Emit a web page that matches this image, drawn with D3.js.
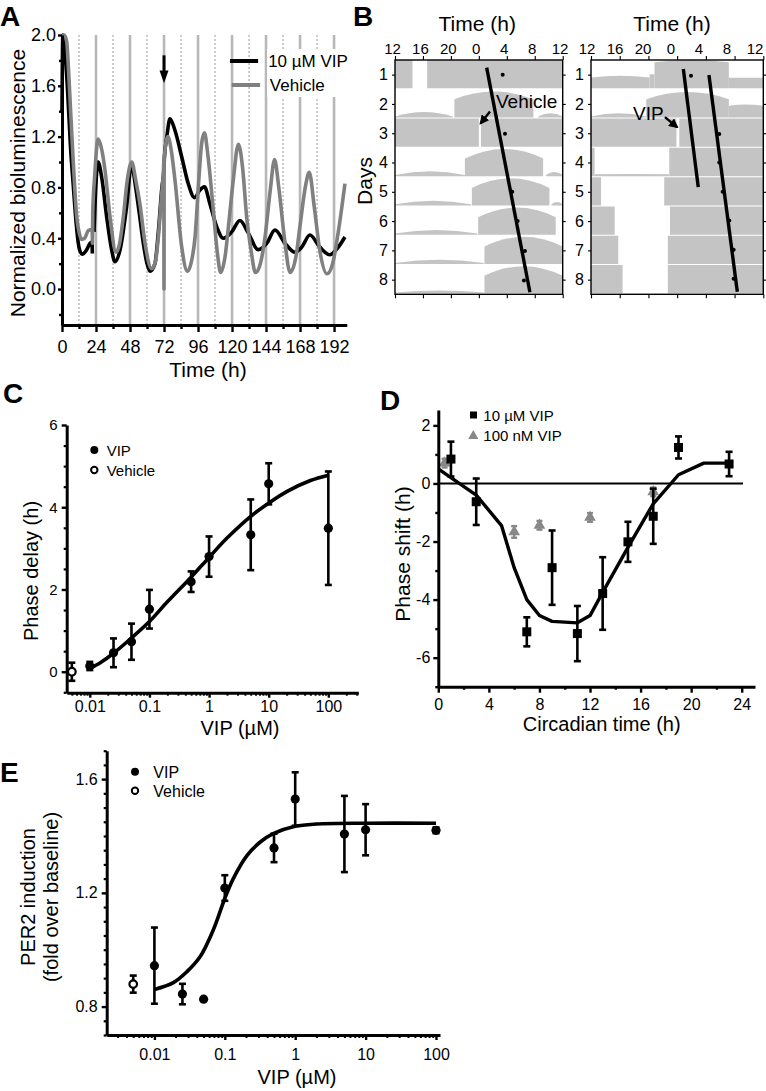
<!DOCTYPE html>
<html><head><meta charset="utf-8">
<script src="https://cdn.jsdelivr.net/npm/d3@7"></script>
<style>body{margin:0;background:#fff} svg{display:block}</style>
</head><body><svg id="fig" width="766" height="1091"></svg>
<script>
// ---------------- DATA ----------------
// Panel A: bioluminescence traces [time h, normalized value]; null = break
const aVipSeries = [[0,1.40],[0.6,2.0],[2,1.9],[4,1.55],[6,1.12],[8,0.81],[10,0.52],[11.5,0.36],[13,0.29],[14.4,0.275],[17.4,0.31],[19.8,0.36],[21.2,0.37],[21.4,0.28],null,
 [22.6,0.45],[23.5,0.72],[25.5,1.0],[28,0.88],[31.5,0.57],[35,0.31],[37.4,0.215],[41,0.31],[45.6,0.65],[49,0.98],[52,0.8],[54.5,0.6],[57.4,0.36],[60,0.2],[62.1,0.14],[65.6,0.2],[68,0.45],[70.5,0.8],[72,0.95],[72.3,1.04],[74,1.2],[76.2,1.34],[79.7,1.25],[84.5,1.04],[89.1,0.83],[93.5,0.72],[97.4,0.78],[100.5,0.805],[104.4,0.67],[109.2,0.49],[113.9,0.40],[119.8,0.45],[125.6,0.54],[131.5,0.44],[138.5,0.31],[144.5,0.36],[150.3,0.465],[157.4,0.36],[164.4,0.29],[169.2,0.33],[175,0.425],[182,0.33],[189,0.27],[195,0.33],[199.7,0.41]];
const aVehicleSeries = [[0,1.99],[1.5,2.0],[3.3,1.95],[4.5,1.75],[5.6,1.51],[8,0.99],[10.4,0.57],[12,0.45],[13.9,0.39],[16,0.4],[18.6,0.46],[21.3,0.47],[21.5,0.36],[21.7,0.6],[23,0.88],[25.5,1.18],[28,1.1],[30.3,0.94],[33.9,0.57],[38.1,0.29],[40.5,0.35],[43.3,0.57],[46,0.85],[49.2,1.0],[52,0.86],[55,0.67],[58.6,0.36],[63.3,0.16],[66,0.22],[68,0.41],[70,0.7],[71.5,0.91],[71.9,1.0],[72,0.0],[72.1,1.02],[74.7,1.2],[77,1.1],[79.7,0.86],[84.5,0.33],[88.5,0.14],[91,0.2],[93.9,0.41],[96.5,0.85],[98.6,1.15],[100.5,1.23],[103,1.05],[106.8,0.62],[109.5,0.3],[112,0.13],[115,0.25],[118,0.55],[120.9,0.86],[124.5,1.14],[127.5,0.95],[130.3,0.57],[133.5,0.3],[136.5,0.13],[140,0.2],[143.3,0.41],[147,0.78],[150,1.02],[153,0.8],[157,0.4],[161,0.13],[165,0.25],[168,0.5],[172,0.82],[174.5,0.92],[178,0.65],[182,0.3],[187,0.12],[191,0.2],[195,0.45],[199.7,0.83]];
const aXTicks = [0,24,48,72,96,120,144,168,192];
const aXMinor = [12,36,60,84,108,132,156,180];
const aYTicks = [0,0.4,0.8,1.2,1.6,2.0];
const aYMinor = [-0.2,0.2,0.6,1.0,1.4,1.8];
const aSolidLines = [24,48,72,96,120,144,168,192];
const aDottedLines = [12,36,60,84,108,132,156,180];
const aLegend = ["10 \u00B5M VIP","Vehicle"];

// Panel B: actograms; bouts = [day, startHour, endHour, edgeHeight, midHeight]
const bTickHours = [0,4,8,12,16,20,24];
const bTickLabels = ["12","16","20","0","4","8","12"];
const bDays = [1,2,3,4,5,6,7,8];
const vehicleBouts = [
 [1,0,2.5,1,1],[1,4.6,24,1,1],
 [2,0,8.3,0.04,0.2],[2,8.5,19.8,0.65,0.92],[2,20.5,24,0.04,0.15],
 [3,0,12,1,1],[3,12.3,24,1,1],
 [4,0,10,0.04,0.17],[4,10,21.2,0.62,0.96],[4,21.6,24,0.04,0.15],
 [5,0,10.9,0.04,0.17],[5,11,22.1,0.62,0.96],[5,22.4,24,0.04,0.12],
 [6,0,11.8,0.04,0.17],[6,11.9,23,0.62,0.96],
 [7,0,12.7,0.04,0.15],[7,12.8,24,0.62,0.96],
 [8,0,12.7,0.03,0.1],[8,12.8,24,0.62,0.96]];
const vipBouts = [
 [1,0,8.15,0.38,0.44],[1,8.15,8.85,0.5,0.5],[1,8.85,19.2,0.92,1.0],[1,19.2,24,0.37,0.37],
 [2,0,7.7,0.04,0.15],[2,7.7,19.2,0.65,0.9],[2,19.2,24,0.42,0.46],
 [3,0,11.9,1,1],[3,12.3,24,1,1],
 [4,0,0.5,1,1],[4,0.5,10.9,0.07,0.08],[4,10.9,24,1,1],
 [5,0,1.4,1,1],[5,10.2,24,1,1],
 [6,0,3.3,1,1],[6,11.0,24,1,1],
 [7,0,3.8,1,1],[7,10.7,24,1,1],
 [8,0,4.4,1,1],[8,10.7,24,1,1]];
const vehicleLines = [[[13.12,0.76],[19.31,8.43]]];
const vehicleDots = [[15.41,1],[15.74,3.02],[16.78,5],[17.55,6],[18.6,7.02],[18.45,8.03]];
const vipLines = [[[12.86,0.81],[14.94,4.84]],[[16.43,1.01],[20.38,8.41]]];
const vipDots = [[13.93,1.04],[17.87,3.03],[17.87,4.0],[18.34,5.0],[19.26,5.98],[19.87,6.98],[19.87,7.97]];

// Panel C: phase delay vs VIP dose
const cDose = [0.01,0.025,0.05,0.1,0.5,1,5,10,100];
const cDelay = [0.14,0.46,0.73,1.52,2.19,2.80,3.33,4.57,3.49];
const cErr = [0.1,0.35,0.44,0.47,0.25,0.49,0.86,0.5,1.38];
const cVehDose = [0.005], cVehDelay = [0.0], cVehErr = [0.22];
const cFitDose = [0.01,0.015,0.025,0.05,0.1,0.2,0.5,1,2,5,10,20,50,100];
const cFitDelay = [0.08,0.22,0.45,0.82,1.22,1.7,2.3,2.78,3.25,3.78,4.1,4.38,4.65,4.78];
const cXTicks = [0.01,0.1,1,10,100];
const cYTicks = [0,2,4,6];

// Panel D: phase response curve
const dCT = [1,3,7,9,11,13,15,17,19,23];
const dShift = [0.84,-0.63,-5.11,-2.9,-5.17,-3.79,-2.01,-1.13,1.24,0.67];
const dErr = [0.6,0.8,0.5,1.28,0.95,1.25,0.69,0.95,0.38,0.42];
const d100CT = [0.5,6,8,12,17];
const d100Shift = [0.7,-1.67,-1.44,-1.17,-0.29];
const d100Err = [0.15,0.2,0.15,0.15,0.15];
const dFitCT = [0,1,3,5,6,7,8,9,11,12,13,15,17,19,21,23];
const dFitShift = [0.5,0.2,-0.4,-1.45,-2.9,-4.0,-4.55,-4.75,-4.8,-4.55,-3.75,-2.2,-0.7,0.3,0.7,0.7];
const dXTicks = [0,4,8,12,16,20,24], dXMinor = [2,6,10,14,18,22];
const dYTicks = [-6,-4,-2,0,2], dYMinor = [-7,-5,-3,-1,1];

// Panel E: PER2 induction
const eDose = [0.01,0.025,0.05,0.1,0.5,1,5,10,100];
const eInd = [0.944,0.844,0.826,1.217,1.358,1.53,1.407,1.422,1.42];
const eErr = [0.134,0.036,0,0.045,0.05,0.094,0.134,0.09,0.01];
const eVehDose = [0.005], eVehInd = [0.879], eVehErr = [0.03];
const eFitDose = [0.01,0.0186,0.0288,0.0445,0.0687,0.1,0.132,0.205,0.316,0.488,1,2,10,100];
const eFitInd = [0.86,0.884,0.922,0.975,1.07,1.18,1.25,1.33,1.378,1.408,1.434,1.442,1.445,1.445];
const eXTicks = [0.01,0.1,1,10,100];
const eYTicks = [0.8,1.2,1.6];

// ---------------- DRAWING ----------------
const FONT = '"Liberation Sans", Arial, Helvetica, sans-serif';
const svg = d3.select("#fig");
const defs = svg.append("defs");
defs.append("marker").attr("id","ah").attr("viewBox","0 0 10 10").attr("refX",8).attr("refY",5)
  .attr("markerWidth",4).attr("markerHeight",4).attr("orient","auto")
  .append("path").attr("d","M0,0L10,5L0,10z").attr("fill","#000");

function txt(g, x, y, s, size, opts={}) {
  const t = g.append("text").attr("x",x).attr("y",y).text(s)
    .attr("font-family",FONT).attr("font-size",size).attr("fill",opts.fill||"#000");
  if (opts.anchor) t.attr("text-anchor",opts.anchor);
  if (opts.weight) t.attr("font-weight",opts.weight);
  if (opts.rotate) t.attr("transform",`rotate(-90,${x},${y})`);
  return t;
}
function styleAxis(g, sw, fs) {
  g.attr("font-family",FONT).attr("font-size",fs);
  g.select(".domain").attr("stroke-width",sw).attr("stroke","#000");
  g.selectAll(".tick line").attr("stroke-width",sw*0.8).attr("stroke","#000");
  g.selectAll(".tick text").attr("fill","#000");
  return g;
}
function minorAxis(g, axis, sw) {
  const m = g.append("g").call(axis);
  m.select(".domain").remove();
  m.selectAll(".tick line").attr("stroke-width",sw).attr("stroke","#000");
  m.selectAll("text").remove();
}
function logMinor(dom, majors) {
  const out=[];
  for (let e=-4;e<=3;e++) for (let k=1;k<=9;k++){
    const v=k*Math.pow(10,e);
    if (v>=dom[0]&&v<=dom[1]&&!majors.some(m=>Math.abs(m-v)/v<1e-9)) out.push(v);
  }
  return out;
}
function errBars(g, xs, ys, es, sx, sy, color, cap, sw) {
  const data = xs.map((x,i)=>({x,y:ys[i],e:es[i]})).filter(d=>d.e>0);
  g.selectAll(null).data(data).join("line")
    .attr("x1",d=>sx(d.x)).attr("x2",d=>sx(d.x)).attr("y1",d=>sy(d.y-d.e)).attr("y2",d=>sy(d.y+d.e))
    .attr("stroke",color).attr("stroke-width",sw);
  [1,-1].forEach(s=>{
    g.selectAll(null).data(data).join("line")
      .attr("x1",d=>sx(d.x)-cap).attr("x2",d=>sx(d.x)+cap).attr("y1",d=>sy(d.y+s*d.e)).attr("y2",d=>sy(d.y+s*d.e))
      .attr("stroke",color).attr("stroke-width",sw);
  });
}

// Panel letters
[["A",0,26],["B",353,26],["C",3,403],["D",380,410],["E",0,782]].forEach(([l,x,y])=>txt(svg,x,y,l,28,{weight:"bold"}));

// ===== Panel A =====
{
  const g = svg.append("g");
  const x = d3.scaleLinear().domain([0,201]).range([62,346.8]);
  const y = d3.scaleLinear().domain([-0.283,2.0]).range([325,35]);
  g.selectAll(null).data(aSolidLines).join("line")
    .attr("x1",d=>x(d)).attr("x2",d=>x(d)).attr("y1",y(2.0)).attr("y2",y(-0.283))
    .attr("stroke","#b8b8b8").attr("stroke-width",2.6);
  g.selectAll(null).data(aDottedLines).join("line")
    .attr("x1",d=>x(d)).attr("x2",d=>x(d)).attr("y1",y(2.0)).attr("y2",y(-0.283))
    .attr("stroke","#999").attr("stroke-width",1).attr("stroke-dasharray","2,2");
  const line = d3.line().defined(d=>d!==null).x(d=>x(d[0])).y(d=>y(d[1])).curve(d3.curveMonotoneX);
  g.append("path").attr("d",line(aVipSeries)).attr("fill","none").attr("stroke","#000").attr("stroke-width",3.6).attr("stroke-linejoin","round");
  g.append("path").attr("d",line(aVehicleSeries)).attr("fill","none").attr("stroke","#808080").attr("stroke-width",3.6).attr("stroke-linejoin","round");
  // arrow at treatment
  g.append("line").attr("x1",x(72)).attr("x2",x(72)).attr("y1",y(1.84)).attr("y2",y(1.68)).attr("stroke","#000").attr("stroke-width",3);
  g.append("path").attr("d",`M${x(72)-4.5},${y(1.72)}L${x(72)+4.5},${y(1.72)}L${x(72)},${y(1.62)}Z`).attr("fill","#000");
  // legend
  g.append("rect").attr("x",x(144.7)).attr("y",49).attr("width",x(201)-x(144.7)).attr("height",48).attr("fill","#fff");
  g.append("line").attr("x1",x(118.6)).attr("x2",x(138.4)).attr("y1",61).attr("y2",61).attr("stroke","#000").attr("stroke-width",4);
  g.append("line").attr("x1",x(119.8)).attr("x2",x(139.8)).attr("y1",85).attr("y2",85).attr("stroke","#808080").attr("stroke-width",4);
  txt(g,x(145.5),67,aLegend[0],17);
  txt(g,x(146.7),91,aLegend[1],17);
  // axes
  const xa = g.append("g").attr("transform",`translate(0,${y(-0.283)})`)
    .call(d3.axisBottom(x).tickValues(aXTicks).tickSize(7).tickPadding(8).tickSizeOuter(0));
  styleAxis(xa,3,18);
  minorAxis(xa, d3.axisBottom(x).tickValues(aXMinor).tickSize(4).tickFormat(""), 2.4);
  const ya = g.append("g").attr("transform",`translate(${x(0)},0)`)
    .call(d3.axisLeft(y).tickValues(aYTicks).tickFormat(d3.format(".1f")).tickSize(4).tickPadding(2).tickSizeOuter(0));
  styleAxis(ya,3,18);
  minorAxis(ya, d3.axisLeft(y).tickValues(aYMinor).tickSize(3).tickFormat(""), 2.4);
  txt(g,208,377,"Time (h)",21,{anchor:"middle"});
  txt(g,25,183,"Normalized bioluminescence",21,{anchor:"middle",rotate:true});
}

// ===== Panel B =====
function actogram(x0, x1, lab0, lab1, bouts, lines, dots, dayLabelX) {
  const g = svg.append("g");
  const hx = d3.scaleLinear().domain([0,24]).range([x0,x1]);
  const lx = d3.scaleLinear().domain([0,24]).range([lab0,lab1]);
  const dt = d3.scaleLinear().domain([0,8]).range([60,294.3]);     // row edges
  const dc = d3.scaleLinear().domain([0.5,8.5]).range([60,294.3]); // row centres
  g.selectAll(null).data(bouts).join("path")
    .attr("d",([day,s,e,edge,mid])=>{
      const top=dt(day-1), bot=dt(day)-1, H=bot-top;
      return `M${hx(s)},${bot}V${bot-edge*H}Q${hx((s+e)/2)},${bot-(2*mid-edge)*H} ${hx(e)},${bot-edge*H}V${bot}Z`;
    }).attr("fill","#c4c4c4");
  g.append("rect").attr("x",x0).attr("y",60).attr("width",x1-x0).attr("height",234.3)
    .attr("fill","none").attr("stroke","#000").attr("stroke-width",1.4);
  const lp = d3.line().x(d=>hx(d[0])).y(d=>dc(d[1]));
  lines.forEach(l=>g.append("path").attr("d",lp(l)).attr("stroke","#000").attr("stroke-width",3.4).attr("fill","none"));
  g.selectAll(null).data(dots).join("circle").attr("cx",d=>hx(d[0])).attr("cy",d=>dc(d[1])).attr("r",2).attr("fill","#000");
  const ta = g.append("g").attr("transform","translate(0,60)").call(d3.axisTop(hx).tickValues(bTickHours).tickSize(4).tickFormat("").tickSizeOuter(0));
  styleAxis(ta,1.4,15); ta.select(".domain").remove();
  g.selectAll(null).data(bTickHours).join("text").attr("x",d=>lx(d)).attr("y",54)
    .attr("text-anchor","middle").attr("font-family",FONT).attr("font-size",15).text((d,i)=>bTickLabels[i]);
  const ba = g.append("g").attr("transform","translate(0,294.3)").call(d3.axisBottom(hx).tickValues(bTickHours).tickSize(4).tickFormat("").tickSizeOuter(0));
  styleAxis(ba,1.4,15); ba.select(".domain").remove();
  const la = g.append("g").attr("transform",`translate(${x0},0)`).call(d3.axisLeft(dc).tickValues(bDays).tickSize(3).tickPadding(dayLabelX).tickFormat(d3.format("d")).tickSizeOuter(0));
  styleAxis(la,1.4,16); la.select(".domain").remove();
  const ra = g.append("g").attr("transform",`translate(${x1},0)`).call(d3.axisRight(dc).tickValues(bDays).tickSize(3).tickFormat("").tickSizeOuter(0));
  styleAxis(ra,1.4,16); ra.select(".domain").remove();
  txt(g,(lab0+lab1)/2+1,31,"Time (h)",21,{anchor:"middle"});
  return {g,hx,dc};
}
{
  const L = actogram(395,562.7,392.5,560,vehicleBouts,vehicleLines,vehicleDots,4);
  txt(L.g,L.hx(14.45),L.dc(2.14),"Vehicle",19);
  L.g.append("line").attr("x1",L.hx(13.6)).attr("y1",L.dc(2.26)).attr("x2",L.hx(12.26)).attr("y2",L.dc(2.66))
    .attr("stroke","#000").attr("stroke-width",2.4).attr("marker-end","url(#ah)");
  const R = actogram(591,763.3,587,755,vipBouts,vipLines,vipDots,4);
  txt(R.g,R.hx(5.85),R.dc(2.55),"VIP",19);
  R.g.append("line").attr("x1",R.hx(10.3)).attr("y1",R.dc(2.45)).attr("x2",R.hx(11.98)).attr("y2",R.dc(2.79))
    .attr("stroke","#000").attr("stroke-width",2.4).attr("marker-end","url(#ah)");
  txt(svg,372,181,"Days",21,{anchor:"middle",rotate:true});
}

// ===== Panel C =====
{
  const g = svg.append("g");
  const x = d3.scaleLog().domain([0.0041,318]).range([66.7,358.3]);
  const y = d3.scaleLinear().domain([-0.51,6]).range([692.7,425]);
  const fit = d3.line().x(d=>x(d)).y((d,i)=>y(cFitDelay[i])).curve(d3.curveCatmullRom.alpha(0.5));
  g.append("path").attr("d",fit(cFitDose)).attr("fill","none").attr("stroke","#000").attr("stroke-width",3.6);
  errBars(g,cDose,cDelay,cErr,x,y,"#000",3.5,2.6);
  errBars(g,cVehDose,cVehDelay,cVehErr,x,y,"#000",3.5,2.6);
  g.selectAll(null).data(cDose).join("circle").attr("cx",d=>x(d)).attr("cy",(d,i)=>y(cDelay[i])).attr("r",4.6).attr("fill","#000");
  g.selectAll(null).data(cVehDose).join("circle").attr("cx",d=>x(d)).attr("cy",(d,i)=>y(cVehDelay[i])).attr("r",3.8).attr("fill","#fff").attr("stroke","#000").attr("stroke-width",2.2);
  const xa = g.append("g").attr("transform",`translate(0,${y(-0.51)})`)
    .call(d3.axisBottom(x).tickValues(cXTicks).tickFormat(d=>String(d)).tickSize(5).tickPadding(3).tickSizeOuter(0));
  styleAxis(xa,3,16);
  minorAxis(xa, d3.axisBottom(x).tickValues(logMinor(x.domain(),cXTicks)).tickSize(3).tickFormat(""), 2);
  const ya = g.append("g").attr("transform",`translate(${x.range()[0]},0)`)
    .call(d3.axisLeft(y).tickValues(cYTicks).tickFormat(d3.format("d")).tickSize(5).tickPadding(4).tickSizeOuter(0));
  styleAxis(ya,3,15);
  minorAxis(ya, d3.axisLeft(y).tickValues(d3.range(-0.5,6,0.5).filter(v=>v%2!==0)).tickSize(3).tickFormat(""), 2.2);
  g.append("circle").attr("cx",94.3).attr("cy",450).attr("r",4).attr("fill","#000");
  g.append("circle").attr("cx",94.3).attr("cy",470).attr("r",3.2).attr("fill","#fff").attr("stroke","#000").attr("stroke-width",2);
  txt(g,106.7,455.5,"VIP",15);
  txt(g,106.7,475.5,"Vehicle",15);
  txt(g,38,571,"Phase delay (h)",20,{anchor:"middle",rotate:true});
  txt(g,240,735,"VIP (\u00B5M)",20,{anchor:"middle"});
}

// ===== Panel D =====
{
  const g = svg.append("g");
  const x = d3.scaleLinear().domain([0,25.05]).range([438.3,755]);
  const y = d3.scaleLinear().domain([-7,2.53]).range([686.7,410]);
  g.append("line").attr("x1",x(0)).attr("x2",x(24.1)).attr("y1",y(0)).attr("y2",y(0)).attr("stroke","#000").attr("stroke-width",2);
  const fit = d3.line().x(d=>x(d)).y((d,i)=>y(dFitShift[i])).curve(d3.curveLinear);
  g.append("path").attr("d",fit(dFitCT)).attr("fill","none").attr("stroke","#000").attr("stroke-width",3.4).attr("stroke-linejoin","round");
  errBars(g,d100CT,d100Shift,d100Err,x,y,"#888",3,2.4);
  const tri = d3.symbol().type(d3.symbolTriangle).size(60);
  g.selectAll(null).data(d100CT).join("path").attr("d",tri)
    .attr("transform",(d,i)=>`translate(${x(d)},${y(d100Shift[i])})`).attr("fill","#888");
  errBars(g,dCT,dShift,dErr,x,y,"#000",3.5,2.6);
  g.selectAll(null).data(dCT).join("rect").attr("x",d=>x(d)-4.5).attr("y",(d,i)=>y(dShift[i])-4.5)
    .attr("width",9).attr("height",9).attr("fill","#000");
  const xa = g.append("g").attr("transform",`translate(0,${y(-7)})`)
    .call(d3.axisBottom(x).tickValues(dXTicks).tickSize(6).tickPadding(6).tickSizeOuter(0));
  styleAxis(xa,3,16);
  minorAxis(xa, d3.axisBottom(x).tickValues(dXMinor).tickSize(3).tickFormat(""), 2.4);
  const ya = g.append("g").attr("transform",`translate(${x(0)},0)`)
    .call(d3.axisLeft(y).tickValues(dYTicks).tickFormat(d=>String(d)).tickSize(5).tickPadding(3).tickSizeOuter(0));
  styleAxis(ya,3,16);
  minorAxis(ya, d3.axisLeft(y).tickValues(dYMinor).tickSize(3).tickFormat(""), 2.4);
  g.append("rect").attr("x",470).attr("y",411.5).attr("width",7).attr("height",7).attr("fill","#000");
  g.append("path").attr("d",d3.symbol().type(d3.symbolTriangle).size(45)).attr("transform","translate(473.3,436)").attr("fill","#888");
  txt(g,483.3,420.5,"10 \u00B5M VIP",15);
  txt(g,483.3,441,"100 nM VIP",15);
  txt(g,410,554,"Phase shift (h)",21,{anchor:"middle",rotate:true});
  txt(g,601.7,731,"Circadian time (h)",20,{anchor:"middle"});
}

// ===== Panel E =====
{
  const g = svg.append("g");
  const x = d3.scaleLog().domain([0.0021,114]).range([106.7,440]);
  const y = d3.scaleLinear().domain([0.7,1.7]).range([1035,750.7]);
  const fit = d3.line().x(d=>x(d)).y((d,i)=>y(eFitInd[i])).curve(d3.curveCatmullRom.alpha(0.5));
  g.append("path").attr("d",fit(eFitDose)).attr("fill","none").attr("stroke","#000").attr("stroke-width",3.6);
  errBars(g,eDose,eInd,eErr,x,y,"#000",3.5,2.6);
  errBars(g,eVehDose,eVehInd,eVehErr,x,y,"#000",3.5,2.6);
  g.selectAll(null).data(eDose).join("circle").attr("cx",d=>x(d)).attr("cy",(d,i)=>y(eInd[i])).attr("r",4.6).attr("fill","#000");
  g.selectAll(null).data(eVehDose).join("circle").attr("cx",d=>x(d)).attr("cy",(d,i)=>y(eVehInd[i])).attr("r",3.8).attr("fill","#fff").attr("stroke","#000").attr("stroke-width",2.2);
  const xa = g.append("g").attr("transform",`translate(0,${y(0.7)})`)
    .call(d3.axisBottom(x).tickValues(eXTicks).tickFormat(d=>String(d)).tickSize(5).tickPadding(9).tickSizeOuter(0));
  styleAxis(xa,3,16);
  minorAxis(xa, d3.axisBottom(x).tickValues(logMinor(x.domain(),eXTicks)).tickSize(3).tickFormat(""), 2);
  const ya = g.append("g").attr("transform",`translate(${x.range()[0]},0)`)
    .call(d3.axisLeft(y).tickValues(eYTicks).tickFormat(d3.format(".1f")).tickSize(5).tickPadding(4).tickSizeOuter(0));
  styleAxis(ya,3,16);
  minorAxis(ya, d3.axisLeft(y).tickValues(d3.range(0,21).map(i=>0.7+i*0.05).filter(v=>!eYTicks.some(t=>Math.abs(t-v)<1e-6))).tickSize(3).tickFormat(""), 2.2);
  g.append("circle").attr("cx",135).attr("cy",771.7).attr("r",4).attr("fill","#000");
  g.append("circle").attr("cx",135).attr("cy",790.7).attr("r",3.2).attr("fill","#fff").attr("stroke","#000").attr("stroke-width",2);
  txt(g,153.3,777.5,"VIP",16);
  txt(g,153.3,796.5,"Vehicle",16);
  txt(g,35,897,"PER2 induction",20,{anchor:"middle",rotate:true});
  txt(g,58,897,"(fold over baseline)",20,{anchor:"middle",rotate:true});
  txt(g,297,1084,"VIP (\u00B5M)",20,{anchor:"middle"});
}
</script></body></html>
